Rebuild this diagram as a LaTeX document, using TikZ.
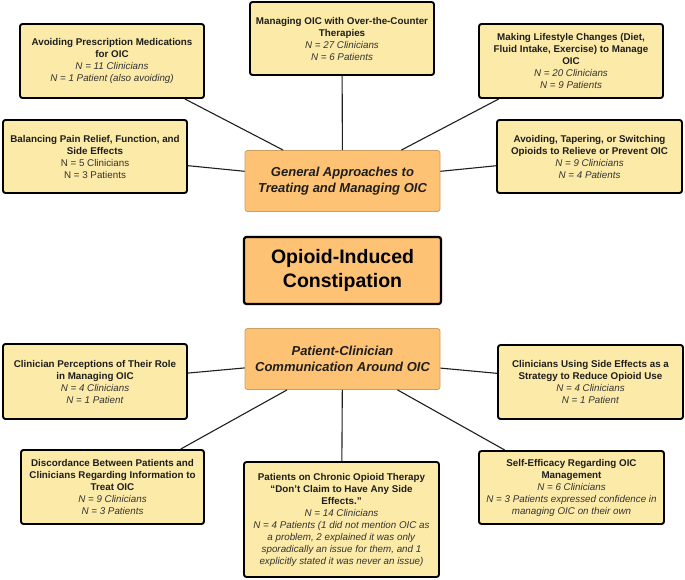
\documentclass[tikz,border=0pt]{standalone}
\usepackage{fontspec}
\setmainfont{Liberation Sans}
\usepackage{xcolor}
\definecolor{leafyellow}{HTML}{FCEAA8}
\definecolor{huborange}{HTML}{FDC274}
\definecolor{hubedge}{HTML}{C9A062}
\definecolor{ink}{HTML}{1E1E1E}
\definecolor{nink}{HTML}{333333}
\newcommand{\nline}[1]{\textcolor{nink}{\textit{#1}}}

\begin{document}
\begin{tikzpicture}[x=1pt, y=-1pt,
    leaf/.style={draw=black, line width=1.9pt, rounded corners=2.5pt, fill=leafyellow,
        align=center, text=ink, inner sep=3pt, minimum width=184pt, minimum height=74pt,
        font=\fontsize{9.8}{12}\selectfont},
    hub/.style={draw=hubedge, line width=0.8pt, rounded corners=2.5pt, fill=huborange,
        align=center, text=ink, minimum width=195pt, minimum height=61pt,
        font=\fontsize{13}{15.5}\selectfont\bfseries\itshape},
    core/.style={draw=black, line width=2.2pt, rounded corners=2.5pt, fill=huborange,
        align=center, text=black, minimum width=197pt, minimum height=67pt,
        font=\fontsize{19.5}{23.5}\selectfont\bfseries},
    link/.style={draw=ink, line width=1.1pt}]
    \useasboundingbox (0,0) rectangle (685,579);

    % centre and the two hubs
    \node[core] (oic) at (342.5,270.5) {Opioid-Induced\\Constipation};
    \node[hub] (general) at (342.5,181) {General Approaches to\\Treating and Managing OIC};
    \node[hub] (comm) at (342.5,359) {Patient-Clinician\\Communication Around OIC};

    % general approaches
    \node[leaf] (avoidrx) at (112,61) {\textbf{Avoiding Prescription Medications}\\\textbf{for OIC}\\
        \nline{N = 11 Clinicians}\\\nline{N = 1 Patient (also avoiding)}};
    \node[leaf, minimum height=73pt] (balance) at (95,156.5) {\textbf{Balancing Pain Relief, Function, and}\\\textbf{Side Effects}\\
        \textcolor{nink}{N = 5 Clinicians}\\\textcolor{nink}{N = 3 Patients}};
    \node[leaf, minimum height=73pt] (otc) at (342,38.5) {\textbf{Managing OIC with Over-the-Counter}\\\textbf{Therapies}\\
        \nline{N = 27 Clinicians}\\\nline{N = 6 Patients}};
    \node[leaf] (lifestyle) at (571,61) {\textbf{Making Lifestyle Changes (Diet,}\\\textbf{Fluid Intake, Exercise) to Manage}\\\textbf{OIC}\\
        \nline{N = 20 Clinicians}\\\nline{N = 9 Patients}};
    \node[leaf, minimum height=73pt, minimum width=185pt] (taper) at (589.5,156.5) {\textbf{Avoiding, Tapering, or Switching}\\\textbf{Opioids to Relieve or Prevent OIC}\\
        \nline{N = 9 Clinicians}\\\nline{N = 4 Patients}};

    % communication
    \node[leaf, minimum height=75pt] (roles) at (95,381.5) {\textbf{Clinician Perceptions of Their Role}\\\textbf{in Managing OIC}\\
        \nline{N = 4 Clinicians}\\\nline{N = 1 Patient}};
    \node[leaf, minimum width=183pt] (discord) at (112.5,487) {\textbf{Discordance Between Patients and}\\\textbf{Clinicians Regarding Information to}\\\textbf{Treat OIC}\\
        \nline{N = 9 Clinicians}\\\nline{N = 3 Patients}};
    \node[leaf, minimum width=195pt, minimum height=115pt] (chronic) at (341.5,519.5) {\textbf{Patients on Chronic Opioid Therapy}\\\textbf{“Don’t Claim to Have Any Side}\\\textbf{Effects.”}\\
        \nline{N = 14 Clinicians}\\\nline{N = 4 Patients (1 did not mention OIC as}\\\nline{a problem, 2 explained it was only}\\
        \nline{sporadically an issue for them, and 1}\\\nline{explicitly stated it was never an issue)}};
    \node[leaf, minimum width=185pt] (sideeff) at (590.5,382) {\textbf{Clinicians Using Side Effects as a}\\\textbf{Strategy to Reduce Opioid Use}\\
        \nline{N = 4 Clinicians}\\\nline{N = 1 Patient}};
    \node[leaf, minimum width=185pt, minimum height=73pt] (selfeff) at (571.5,487.5) {\textbf{Self-Efficacy Regarding OIC}\\\textbf{Management}\\
        \nline{N = 6 Clinicians}\\\nline{N = 3 Patients expressed confidence in}\\\nline{managing OIC on their own}};

    \draw[link] (general) -- (avoidrx);
    \draw[link] (general) -- (balance);
    \draw[link] (general) -- (otc);
    \draw[link] (general) -- (lifestyle);
    \draw[link] (general) -- (taper);
    \draw[link] (comm) -- (roles);
    \draw[link] (comm) -- (discord);
    \draw[link] (comm) -- (chronic);
    \draw[link] (comm) -- (sideeff);
    \draw[link] (comm) -- (selfeff);
\end{tikzpicture}
\end{document}
